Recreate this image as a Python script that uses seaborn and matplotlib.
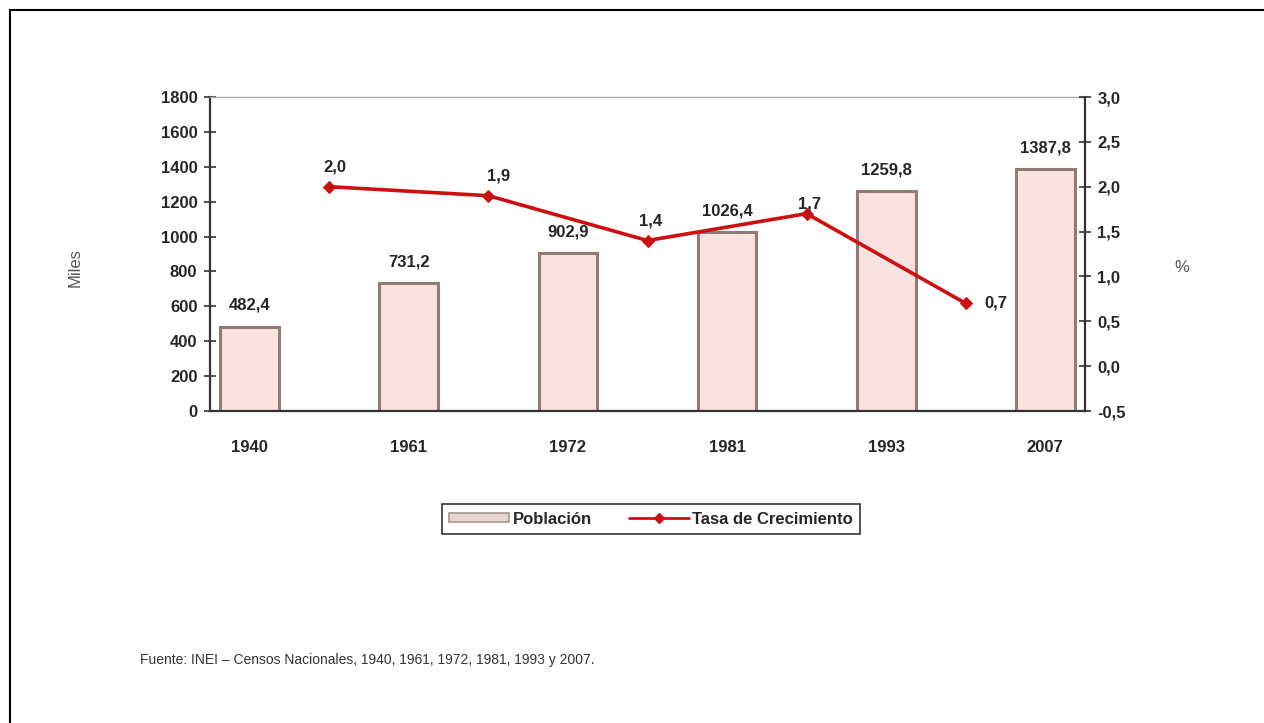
#!/usr/bin/env python3
"""
Poblacion censada y tasa de crecimiento, 1940-2007 (INEI).
Bars for population (miles) on the left axis, growth rate line (%) on the right.
"""

import numpy as np
import pandas as pd
import matplotlib
matplotlib.use("Agg")
import matplotlib.pyplot as plt
from matplotlib.patches import Rectangle, Patch
from matplotlib.lines import Line2D
import seaborn as sns

# --- data -------------------------------------------------------------
years = ["1940", "1961", "1972", "1981", "1993", "2007"]
poblacion = [482.4, 731.2, 902.9, 1026.4, 1259.8, 1387.8]
pob_labels = ["482,4", "731,2", "902,9", "1026,4", "1259,8", "1387,8"]
tasa = [2.0, 1.9, 1.4, 1.7, 0.7]
tasa_labels = ["2,0", "1,9", "1,4", "1,7", "0,7"]
left_ticks = list(range(0, 2000, 200))
right_ticks = [-0.5, 0.0, 0.5, 1.0, 1.5, 2.0, 2.5, 3.0]
right_ticklabels = ["-0,5", "0,0", "0,5", "1,0", "1,5", "2,0", "2,5", "3,0"]
source = "Fuente: INEI \u2013 Censos Nacionales, 1940, 1961, 1972, 1981, 1993 y 2007."

# bars sit on even slots, growth rates between censuses on odd slots
bar_pos = np.arange(len(years)) * 2
rate_pos = bar_pos[:-1] + 1

df_bar = pd.DataFrame({"pos": bar_pos, "poblacion": poblacion})
df_rate = pd.DataFrame({"pos": rate_pos, "tasa": tasa})

# --- style ------------------------------------------------------------
sns.set_style("white")
NARROW = ["Liberation Sans Narrow", "Liberation Sans", "DejaVu Sans"]
PLAIN = ["Liberation Sans", "DejaVu Sans"]
plt.rcParams["font.family"] = NARROW
plt.rcParams["font.weight"] = "bold"

BAR_FACE = "#f9e2df"
BAR_EDGE = "#8f7c77"
LINE_RED = "#cc1010"
FS = 12

fig = plt.figure(figsize=(12.64, 7.23), dpi=100)
W, H = 1264, 723

# outer frame of the picture
fig.patches.append(Rectangle((10 / W, -0.1), 1.2, 1 - 10 / H + 0.1,
                             transform=fig.transFigure, fill=False,
                             edgecolor="black", linewidth=1.5))

ax = fig.add_axes([210 / W, 1 - 411 / H, 875 / W, 314 / H])

sns.barplot(data=df_bar, x="pos", y="poblacion", native_scale=True,
            width=0.37, color=BAR_FACE, edgecolor=BAR_EDGE, linewidth=2.2,
            saturation=1, ax=ax)

ax.set_xlim(-0.5, 10.5)
ax.set_ylim(0, 1800)
ax.set_yticks(left_ticks)
ax.set_yticklabels([str(t) for t in left_ticks], fontsize=FS, fontweight="bold")
ax.set_xticks(bar_pos)
ax.set_xticklabels(years, fontsize=FS, fontweight="bold")
ax.set_xticks(np.arange(-0.5, 11, 1), minor=True)
ax.tick_params(axis="x", which="major", length=0, pad=21)
ax.tick_params(axis="x", which="minor", length=8, direction="inout",
               width=1.2, color="#333333")
ax.tick_params(axis="y", length=8, direction="inout", width=1.2,
               color="#333333", pad=5)
ax.set_xlabel("")
ax.set_ylabel("")

for side in ["left", "bottom"]:
    ax.spines[side].set_color("#333333")
    ax.spines[side].set_linewidth(1.6)
ax.spines["top"].set_color("#aaaaaa")
ax.spines["top"].set_linewidth(1.0)
ax.spines["right"].set_visible(False)

for x, v, lab in zip(bar_pos, poblacion, pob_labels):
    ax.annotate(lab, (x, v), xytext=(0, 10), textcoords="offset points",
                ha="center", va="bottom", fontsize=FS, fontweight="bold")

# growth rate on the right axis
ax2 = ax.twinx()
sns.lineplot(data=df_rate, x="pos", y="tasa", color=LINE_RED, linewidth=2.6,
             marker="D", markersize=6, markeredgecolor=LINE_RED, ax=ax2)
ax2.set_xlim(-0.5, 10.5)
ax2.set_ylim(-0.5, 3.0)
ax2.set_yticks(right_ticks)
ax2.set_yticklabels(right_ticklabels, fontsize=FS, fontweight="bold")
ax2.tick_params(axis="y", length=8, direction="inout", width=1.2,
                color="#333333", pad=5)
ax2.set_ylabel("")
ax2.set_xlabel("")
for side in ["left", "top", "bottom"]:
    ax2.spines[side].set_visible(False)
ax2.spines["right"].set_color("#333333")
ax2.spines["right"].set_linewidth(1.6)

rate_offsets = [(4, 14), (7, 14), (2, 14), (2, 7), (22, 0)]
for x, v, lab, off in zip(rate_pos, tasa, tasa_labels, rate_offsets):
    ax2.annotate(lab, (x, v), xytext=off, textcoords="offset points",
                 ha="center", va="center", fontsize=FS, fontweight="bold")

# axis titles
fig.text(75 / W, 1 - 268 / H, "Miles", rotation=90, ha="center", va="center",
         fontsize=12, color="#555555", family=PLAIN, fontweight="normal")
fig.text(1182 / W, 1 - 268 / H, "%", ha="center", va="center",
         fontsize=12, color="#555555", family=PLAIN, fontweight="normal")

# legend
handles = [
    Patch(facecolor="#e6d6d0", edgecolor="#a8958e", linewidth=1.2),
    Line2D([0], [0], color=LINE_RED, linewidth=2, marker="D", markersize=5),
]
leg = fig.legend(handles, ["Población", "Tasa de Crecimiento"], ncol=2,
                 loc="center", bbox_to_anchor=(651 / W, 1 - 519 / H),
                 frameon=True, fancybox=False, edgecolor="black",
                 prop={"family": NARROW, "weight": "bold", "size": FS},
                 handlelength=3.6, handleheight=0.45, columnspacing=2.2,
                 borderpad=0.45, handletextpad=0.2, borderaxespad=0)
leg.get_frame().set_linewidth(1.2)

fig.text(140 / W, 1 - 660 / H, source, ha="left", va="center",
         fontsize=10, color="#333333", family=PLAIN, fontweight="normal")

fig.savefig("out.png", dpi=100, facecolor="white")
